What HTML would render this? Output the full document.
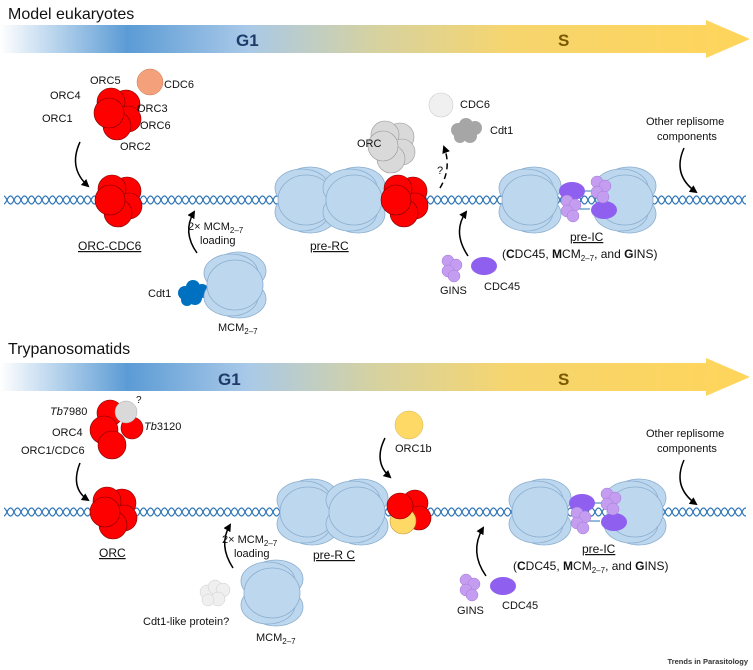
<!DOCTYPE html>
<html><head><meta charset="utf-8"><style>
body{margin:0;background:#fff}
svg{display:block;font-family:"Liberation Sans",sans-serif}
text{fill:#111}
</style></head><body>
<svg width="753" height="670" viewBox="0 0 753 670" xmlns="http://www.w3.org/2000/svg">
<defs>
<linearGradient id="bar" x1="0" x2="750" y1="0" y2="0" gradientUnits="userSpaceOnUse">
<stop offset="0" stop-color="#ffffff"/>
<stop offset="0.17" stop-color="#5b9bd5"/>
<stop offset="0.33" stop-color="#a9c9e8"/>
<stop offset="0.5" stop-color="#d6d2a0"/>
<stop offset="0.68" stop-color="#f6d56e"/>
<stop offset="1" stop-color="#ffd55a"/>
</linearGradient>
<pattern id="dna" width="14" height="12" patternUnits="userSpaceOnUse" y="2">
<path d="M0 6 Q3.5 -2 7 6 T14 6" fill="none" stroke="#2e75b6" stroke-width="1.2"/>
<path d="M0 6 Q3.5 14 7 6 T14 6" fill="none" stroke="#2e75b6" stroke-width="1.2"/>
</pattern>
<marker id="ah" markerWidth="8" markerHeight="8" refX="6" refY="4" orient="auto" markerUnits="userSpaceOnUse">
<path d="M0 0 L8 4 L0 8 Z" fill="#000"/>
</marker>
<g id="mcm" stroke="#8aaed0" stroke-width="0.8" fill="#bdd7ee">
<ellipse cx="4" cy="-14" rx="27" ry="19"/>
<ellipse cx="4" cy="14" rx="27" ry="19"/>
<ellipse cx="-4" cy="-12" rx="27" ry="19"/>
<ellipse cx="-4" cy="12" rx="27" ry="19"/>
<ellipse cx="0" cy="0" rx="28" ry="25"/>
</g>
<g id="orc" stroke="#7a0000" stroke-width="0.6" fill="#ff0000">
<circle cx="9" cy="-9" r="14"/>
<circle cx="-6" cy="-11" r="14"/>
<circle cx="11" cy="6" r="13"/>
<circle cx="0" cy="13" r="14"/>
<circle cx="-8" cy="0" r="15"/>
</g>
<g id="orcg" stroke="#999" stroke-width="0.6" fill="#d9d9d9">
<circle cx="9" cy="-9" r="14"/>
<circle cx="-6" cy="-11" r="14"/>
<circle cx="11" cy="6" r="13"/>
<circle cx="0" cy="13" r="14"/>
<circle cx="-8" cy="0" r="15"/>
</g>
<g id="gins" fill="#c49cf0" stroke="#a57ad8" stroke-width="0.5">
<circle cx="-4" cy="-6" r="6"/><circle cx="4" cy="-2" r="6"/><circle cx="-4" cy="4" r="6"/><circle cx="2" cy="9" r="6"/>
</g>
</defs>

<!-- TOP PANEL -->
<text x="8" y="19" font-size="16">Model eukaryotes</text>
<polygon points="0,25 706,25 706,20 750,39 706,58 706,53 0,53" fill="url(#bar)"/>
<text x="236" y="46" font-size="17" font-weight="bold" style="fill:#1f3b6a">G1</text>
<text x="558" y="46" font-size="17" font-weight="bold" style="fill:#7a5a00">S</text>

<rect x="4" y="194" width="742" height="12" fill="url(#dna)"/>

<use href="#orc" x="117" y="113"/>
<circle cx="150" cy="82" r="13" fill="#f4a07a" stroke="#c57a55" stroke-width="0.5"/>
<text x="164" y="88" font-size="11">CDC6</text>
<text x="90" y="84" font-size="11">ORC5</text>
<text x="50" y="99" font-size="11">ORC4</text>
<text x="42" y="122" font-size="11">ORC1</text>
<text x="137" y="112" font-size="11">ORC3</text>
<text x="140" y="129" font-size="11">ORC6</text>
<text x="120" y="150" font-size="11">ORC2</text>
<path d="M80 142 Q68 168 88 186" fill="none" stroke="#000" stroke-width="1.5" marker-end="url(#ah)"/>

<circle cx="131" cy="208" r="8" fill="#f4a07a"/>
<use href="#orc" x="118" y="200"/>
<text x="78" y="250" font-size="12" text-decoration="underline">ORC-CDC6</text>

<g fill="#0070c0"><circle cx="185" cy="293" r="7"/><circle cx="193" cy="287" r="7"/><circle cx="195" cy="298" r="7"/><circle cx="202" cy="291" r="7"/><circle cx="187" cy="300" r="6"/></g>
<use href="#mcm" x="235" y="285"/>
<text x="148" y="297" font-size="11">Cdt1</text>
<text x="218" y="331" font-size="11">MCM<tspan font-size="8" dy="3">2–7</tspan></text>
<path d="M197 253 Q182 232 194 212" fill="none" stroke="#000" stroke-width="1.5" marker-end="url(#ah)"/>
<text x="188" y="230" font-size="11">2× MCM<tspan font-size="8" dy="3">2–7</tspan></text>
<text x="200" y="244" font-size="11">loading</text>

<use href="#mcm" x="306" y="200"/>
<use href="#mcm" x="354" y="200"/>
<circle cx="417" cy="207" r="8" fill="#f4a07a"/>
<use href="#orc" x="404" y="200"/>
<text x="310" y="250" font-size="12" text-decoration="underline">pre-RC</text>

<use href="#orcg" x="391" y="146"/>
<text x="357" y="147" font-size="11">ORC</text>
<circle cx="441" cy="105" r="12" fill="#f0f0f0" stroke="#ccc" stroke-width="0.6"/>
<text x="460" y="108" font-size="11">CDC6</text>
<g fill="#a6a6a6"><circle cx="458" cy="130" r="7"/><circle cx="466" cy="125" r="7"/><circle cx="475" cy="128" r="7"/><circle cx="470" cy="136" r="7"/><circle cx="460" cy="137" r="6"/></g>
<text x="490" y="134" font-size="11">Cdt1</text>
<path d="M440 188 Q452 168 444 147" fill="none" stroke="#000" stroke-width="1.5" stroke-dasharray="6,4" marker-end="url(#ah)"/>
<text x="437" y="174" font-size="11">?</text>

<use href="#mcm" x="530" y="200"/>
<use href="#mcm" x="625" y="200"/>
<line x1="583" y1="191" x2="598" y2="191" stroke="#2e75b6"/>
<line x1="574" y1="209" x2="590" y2="209" stroke="#2e75b6"/>
<ellipse cx="572" cy="191" rx="13" ry="9" fill="#8f5ff0"/>
<ellipse cx="604" cy="210" rx="13" ry="9" fill="#8f5ff0"/>
<use href="#gins" x="571" y="207"/>
<use href="#gins" x="601" y="188"/>
<text x="570" y="241" font-size="12" text-decoration="underline">pre-IC</text>
<text x="502" y="258" font-size="12">(<tspan font-weight="bold">C</tspan>DC45, <tspan font-weight="bold">M</tspan>CM<tspan font-size="8" dy="3">2–7</tspan><tspan dy="-3">, and </tspan><tspan font-weight="bold">G</tspan>INS)</text>
<use href="#gins" x="452" y="267"/>
<ellipse cx="484" cy="266" rx="13" ry="9" fill="#8f5ff0"/>
<text x="440" y="294" font-size="11">GINS</text>
<text x="484" y="290" font-size="11">CDC45</text>
<path d="M468 256 Q452 232 466 212" fill="none" stroke="#000" stroke-width="1.5" marker-end="url(#ah)"/>
<text x="646" y="125" font-size="11">Other replisome</text>
<text x="657" y="140" font-size="11">components</text>
<path d="M684 148 Q672 175 696 192" fill="none" stroke="#000" stroke-width="1.5" marker-end="url(#ah)"/>

<!-- BOTTOM PANEL -->
<text x="8" y="354" font-size="16">Trypanosomatids</text>
<polygon points="0,363 706,363 706,358 750,377 706,396 706,391 0,391" fill="url(#bar)"/>
<text x="218" y="385" font-size="17" font-weight="bold" style="fill:#1f3b6a">G1</text>
<text x="558" y="385" font-size="17" font-weight="bold" style="fill:#7a5a00">S</text>

<rect x="4" y="506" width="742" height="12" fill="url(#dna)"/>

<g stroke="#7a0000" stroke-width="0.6" fill="#ff0000">
<circle cx="132" cy="428" r="11"/>
<circle cx="110" cy="413" r="13"/>
<circle cx="104" cy="430" r="14"/>
<circle cx="112" cy="445" r="14"/>
</g>
<circle cx="126" cy="412" r="11" fill="#d9d9d9" stroke="#aaa" stroke-width="0.5"/>
<text x="50" y="415" font-size="11"><tspan font-style="italic">Tb</tspan>7980</text>
<text x="136" y="403" font-size="10">?</text>
<text x="144" y="430" font-size="11"><tspan font-style="italic">Tb</tspan>3120</text>
<text x="52" y="436" font-size="11">ORC4</text>
<text x="21" y="454" font-size="11">ORC1/CDC6</text>
<path d="M80 463 Q70 488 88 500" fill="none" stroke="#000" stroke-width="1.5" marker-end="url(#ah)"/>

<circle cx="127" cy="508" r="8" fill="#d9d9d9"/>
<use href="#orc" x="113" y="512"/>
<text x="99" y="557" font-size="12" text-decoration="underline">ORC</text>

<g fill="#efefef" stroke="#ccc" stroke-width="0.5"><circle cx="207" cy="592" r="7"/><circle cx="215" cy="587" r="7"/><circle cx="223" cy="590" r="7"/><circle cx="218" cy="599" r="7"/><circle cx="208" cy="600" r="6"/></g>
<use href="#mcm" x="272" y="593"/>
<text x="143" y="625" font-size="11">Cdt1-like protein?</text>
<text x="256" y="641" font-size="11">MCM<tspan font-size="8" dy="3">2–7</tspan></text>
<path d="M233 568 Q218 545 230 525" fill="none" stroke="#000" stroke-width="1.5" marker-end="url(#ah)"/>
<text x="222" y="543" font-size="11">2× MCM<tspan font-size="8" dy="3">2–7</tspan></text>
<text x="234" y="557" font-size="11">loading</text>

<use href="#mcm" x="308" y="512"/>
<use href="#mcm" x="357" y="512"/>
<g stroke="#7a0000" stroke-width="0.6" fill="#ff0000">
<circle cx="415" cy="503" r="13"/><circle cx="419" cy="518" r="12"/>
</g>
<circle cx="403" cy="521" r="13" fill="#ffd966" stroke="#b8963a" stroke-width="0.6"/>
<circle cx="400" cy="506" r="13" fill="#ff0000" stroke="#7a0000" stroke-width="0.6"/>
<text x="313" y="559" font-size="12" text-decoration="underline">pre-R C</text>
<circle cx="409" cy="425" r="14" fill="#ffd966" stroke="#d0b050" stroke-width="0.5"/>
<text x="395" y="452" font-size="11">ORC1b</text>
<path d="M385 438 Q373 462 390 477" fill="none" stroke="#000" stroke-width="1.5" marker-end="url(#ah)"/>

<use href="#mcm" x="540" y="512"/>
<use href="#mcm" x="635" y="512"/>
<line x1="593" y1="503" x2="608" y2="503" stroke="#2e75b6"/>
<line x1="584" y1="521" x2="600" y2="521" stroke="#2e75b6"/>
<ellipse cx="582" cy="503" rx="13" ry="9" fill="#8f5ff0"/>
<ellipse cx="614" cy="522" rx="13" ry="9" fill="#8f5ff0"/>
<use href="#gins" x="581" y="519"/>
<use href="#gins" x="611" y="500"/>
<text x="582" y="553" font-size="12" text-decoration="underline">pre-IC</text>
<text x="513" y="570" font-size="12">(<tspan font-weight="bold">C</tspan>DC45, <tspan font-weight="bold">M</tspan>CM<tspan font-size="8" dy="3">2–7</tspan><tspan dy="-3">, and </tspan><tspan font-weight="bold">G</tspan>INS)</text>
<use href="#gins" x="470" y="586"/>
<ellipse cx="503" cy="586" rx="13" ry="9" fill="#8f5ff0"/>
<text x="457" y="614" font-size="11">GINS</text>
<text x="502" y="609" font-size="11">CDC45</text>
<path d="M486 576 Q469 552 483 528" fill="none" stroke="#000" stroke-width="1.5" marker-end="url(#ah)"/>
<text x="646" y="437" font-size="11">Other replisome</text>
<text x="657" y="452" font-size="11">components</text>
<path d="M684 460 Q672 487 696 504" fill="none" stroke="#000" stroke-width="1.5" marker-end="url(#ah)"/>

<text x="748" y="664" font-size="7.5" font-weight="bold" text-anchor="end" style="fill:#333">Trends in Parasitology</text>
</svg>
</body></html>
